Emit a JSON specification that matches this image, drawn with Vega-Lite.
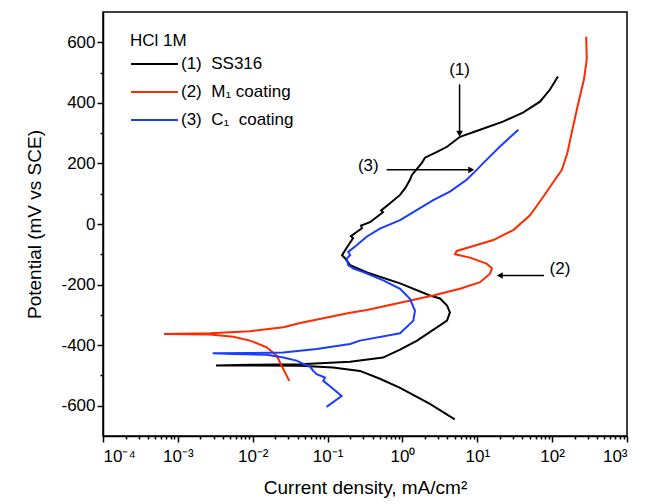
{
  "$schema": "https://vega.github.io/schema/vega-lite/v6.json",
  "width": 524,
  "height": 424,
  "autosize": {"type": "none"},
  "padding": {"left": 103, "top": 12, "right": 34, "bottom": 68},
  "background": "white",
  "config": {
    "font": "Liberation Sans",
    "view": {"stroke": "black", "strokeWidth": 1.5},
    "axis": {
      "grid": false,
      "domainColor": "black",
      "domainWidth": 1.5,
      "tickColor": "black",
      "tickWidth": 1.5,
      "labelColor": "black",
      "labelFont": "Liberation Sans",
      "labelFontSize": 17,
      "titleFont": "Liberation Sans",
      "titleFontSize": 19,
      "titleFontWeight": "normal",
      "titleColor": "black"
    }
  },
  "resolve": {"axis": {"x": "independent", "y": "independent"}},
  "datasets": {
    "curves": [
      {"s": "(1)  SS316", "i": 1, "x": 5.0, "y": -645},
      {"s": "(1)  SS316", "i": 2, "x": 2.33, "y": -594},
      {"s": "(1)  SS316", "i": 3, "x": 0.93, "y": -541},
      {"s": "(1)  SS316", "i": 4, "x": 0.5, "y": -511},
      {"s": "(1)  SS316", "i": 5, "x": 0.271, "y": -485},
      {"s": "(1)  SS316", "i": 6, "x": 0.118, "y": -474},
      {"s": "(1)  SS316", "i": 7, "x": 0.043, "y": -468},
      {"s": "(1)  SS316", "i": 8, "x": 0.0092, "y": -467},
      {"s": "(1)  SS316", "i": 9, "x": 0.00323, "y": -467},
      {"s": "(1)  SS316", "i": 10, "x": 0.0092, "y": -465},
      {"s": "(1)  SS316", "i": 11, "x": 0.043, "y": -463},
      {"s": "(1)  SS316", "i": 12, "x": 0.2, "y": -455},
      {"s": "(1)  SS316", "i": 13, "x": 0.55, "y": -441},
      {"s": "(1)  SS316", "i": 14, "x": 0.93, "y": -415},
      {"s": "(1)  SS316", "i": 15, "x": 1.57, "y": -385},
      {"s": "(1)  SS316", "i": 16, "x": 3.94, "y": -319},
      {"s": "(1)  SS316", "i": 17, "x": 4.31, "y": -292},
      {"s": "(1)  SS316", "i": 18, "x": 3.94, "y": -269},
      {"s": "(1)  SS316", "i": 19, "x": 3.18, "y": -246},
      {"s": "(1)  SS316", "i": 20, "x": 2.33, "y": -236},
      {"s": "(1)  SS316", "i": 21, "x": 0.93, "y": -196},
      {"s": "(1)  SS316", "i": 22, "x": 0.336, "y": -160},
      {"s": "(1)  SS316", "i": 23, "x": 0.2, "y": -136},
      {"s": "(1)  SS316", "i": 24, "x": 0.171, "y": -113},
      {"s": "(1)  SS316", "i": 25, "x": 0.156, "y": -103},
      {"s": "(1)  SS316", "i": 26, "x": 0.182, "y": -77},
      {"s": "(1)  SS316", "i": 27, "x": 0.219, "y": -47},
      {"s": "(1)  SS316", "i": 28, "x": 0.205, "y": -40},
      {"s": "(1)  SS316", "i": 29, "x": 0.288, "y": -14},
      {"s": "(1)  SS316", "i": 30, "x": 0.28, "y": -5},
      {"s": "(1)  SS316", "i": 31, "x": 0.369, "y": 6},
      {"s": "(1)  SS316", "i": 32, "x": 0.55, "y": 39},
      {"s": "(1)  SS316", "i": 33, "x": 0.52, "y": 45},
      {"s": "(1)  SS316", "i": 34, "x": 0.64, "y": 63},
      {"s": "(1)  SS316", "i": 35, "x": 0.93, "y": 96},
      {"s": "(1)  SS316", "i": 36, "x": 1.1, "y": 120},
      {"s": "(1)  SS316", "i": 37, "x": 1.26, "y": 146},
      {"s": "(1)  SS316", "i": 38, "x": 1.34, "y": 162},
      {"s": "(1)  SS316", "i": 39, "x": 1.82, "y": 202},
      {"s": "(1)  SS316", "i": 40, "x": 2.0, "y": 219},
      {"s": "(1)  SS316", "i": 41, "x": 2.9, "y": 238},
      {"s": "(1)  SS316", "i": 42, "x": 3.94, "y": 255},
      {"s": "(1)  SS316", "i": 43, "x": 5.87, "y": 288},
      {"s": "(1)  SS316", "i": 44, "x": 10.9, "y": 311},
      {"s": "(1)  SS316", "i": 45, "x": 22.0, "y": 338},
      {"s": "(1)  SS316", "i": 46, "x": 40.7, "y": 368},
      {"s": "(1)  SS316", "i": 47, "x": 68.8, "y": 404},
      {"s": "(1)  SS316", "i": 48, "x": 93.6, "y": 444},
      {"s": "(1)  SS316", "i": 49, "x": 119.7, "y": 487},
      {"s": "(2)  M₁ coating", "i": 1, "x": 0.0308, "y": -518},
      {"s": "(2)  M₁ coating", "i": 2, "x": 0.0256, "y": -479},
      {"s": "(2)  M₁ coating", "i": 3, "x": 0.0209, "y": -435},
      {"s": "(2)  M₁ coating", "i": 4, "x": 0.0154, "y": -407},
      {"s": "(2)  M₁ coating", "i": 5, "x": 0.0092, "y": -385},
      {"s": "(2)  M₁ coating", "i": 6, "x": 0.0055, "y": -372},
      {"s": "(2)  M₁ coating", "i": 7, "x": 0.00268, "y": -365},
      {"s": "(2)  M₁ coating", "i": 8, "x": 0.000653, "y": -363},
      {"s": "(2)  M₁ coating", "i": 9, "x": 0.00268, "y": -361},
      {"s": "(2)  M₁ coating", "i": 10, "x": 0.0092, "y": -354},
      {"s": "(2)  M₁ coating", "i": 11, "x": 0.0256, "y": -341},
      {"s": "(2)  M₁ coating", "i": 12, "x": 0.043, "y": -327},
      {"s": "(2)  M₁ coating", "i": 13, "x": 0.2, "y": -293},
      {"s": "(2)  M₁ coating", "i": 14, "x": 0.336, "y": -284},
      {"s": "(2)  M₁ coating", "i": 15, "x": 0.93, "y": -260},
      {"s": "(2)  M₁ coating", "i": 16, "x": 2.56, "y": -236},
      {"s": "(2)  M₁ coating", "i": 17, "x": 5.87, "y": -214},
      {"s": "(2)  M₁ coating", "i": 18, "x": 10.9, "y": -192},
      {"s": "(2)  M₁ coating", "i": 19, "x": 14.8, "y": -164},
      {"s": "(2)  M₁ coating", "i": 20, "x": 15.7, "y": -146},
      {"s": "(2)  M₁ coating", "i": 21, "x": 13.3, "y": -131},
      {"s": "(2)  M₁ coating", "i": 22, "x": 7.98, "y": -111},
      {"s": "(2)  M₁ coating", "i": 23, "x": 5.04, "y": -100},
      {"s": "(2)  M₁ coating", "i": 24, "x": 5.31, "y": -89},
      {"s": "(2)  M₁ coating", "i": 25, "x": 7.98, "y": -76},
      {"s": "(2)  M₁ coating", "i": 26, "x": 16.4, "y": -53},
      {"s": "(2)  M₁ coating", "i": 27, "x": 30.3, "y": -20},
      {"s": "(2)  M₁ coating", "i": 28, "x": 50.6, "y": 29},
      {"s": "(2)  M₁ coating", "i": 29, "x": 76.2, "y": 90},
      {"s": "(2)  M₁ coating", "i": 30, "x": 109, "y": 146},
      {"s": "(2)  M₁ coating", "i": 31, "x": 135, "y": 179},
      {"s": "(2)  M₁ coating", "i": 32, "x": 160, "y": 235},
      {"s": "(2)  M₁ coating", "i": 33, "x": 182, "y": 300},
      {"s": "(2)  M₁ coating", "i": 34, "x": 221, "y": 394},
      {"s": "(2)  M₁ coating", "i": 35, "x": 266, "y": 477},
      {"s": "(2)  M₁ coating", "i": 36, "x": 290, "y": 544},
      {"s": "(2)  M₁ coating", "i": 37, "x": 285, "y": 618},
      {"s": "(3)  C₁  coating", "i": 1, "x": 0.097, "y": -604},
      {"s": "(3)  C₁  coating", "i": 2, "x": 0.154, "y": -568},
      {"s": "(3)  C₁  coating", "i": 3, "x": 0.113, "y": -540},
      {"s": "(3)  C₁  coating", "i": 4, "x": 0.0877, "y": -518},
      {"s": "(3)  C₁  coating", "i": 5, "x": 0.0924, "y": -507},
      {"s": "(3)  C₁  coating", "i": 6, "x": 0.0714, "y": -496},
      {"s": "(3)  C₁  coating", "i": 7, "x": 0.0644, "y": -485},
      {"s": "(3)  C₁  coating", "i": 8, "x": 0.0582, "y": -471},
      {"s": "(3)  C₁  coating", "i": 9, "x": 0.0474, "y": -462},
      {"s": "(3)  C₁  coating", "i": 10, "x": 0.0386, "y": -451},
      {"s": "(3)  C₁  coating", "i": 11, "x": 0.0256, "y": -441},
      {"s": "(3)  C₁  coating", "i": 12, "x": 0.0154, "y": -432},
      {"s": "(3)  C₁  coating", "i": 13, "x": 0.0055, "y": -429},
      {"s": "(3)  C₁  coating", "i": 14, "x": 0.00292, "y": -427},
      {"s": "(3)  C₁  coating", "i": 15, "x": 0.0092, "y": -426},
      {"s": "(3)  C₁  coating", "i": 16, "x": 0.0256, "y": -424},
      {"s": "(3)  C₁  coating", "i": 17, "x": 0.0714, "y": -413},
      {"s": "(3)  C₁  coating", "i": 18, "x": 0.2, "y": -396},
      {"s": "(3)  C₁  coating", "i": 19, "x": 0.271, "y": -385},
      {"s": "(3)  C₁  coating", "i": 20, "x": 0.93, "y": -361},
      {"s": "(3)  C₁  coating", "i": 21, "x": 1.4, "y": -319},
      {"s": "(3)  C₁  coating", "i": 22, "x": 1.47, "y": -286},
      {"s": "(3)  C₁  coating", "i": 23, "x": 1.26, "y": -247},
      {"s": "(3)  C₁  coating", "i": 24, "x": 0.93, "y": -214},
      {"s": "(3)  C₁  coating", "i": 25, "x": 0.555, "y": -186},
      {"s": "(3)  C₁  coating", "i": 26, "x": 0.3, "y": -159},
      {"s": "(3)  C₁  coating", "i": 27, "x": 0.221, "y": -147},
      {"s": "(3)  C₁  coating", "i": 28, "x": 0.189, "y": -136},
      {"s": "(3)  C₁  coating", "i": 29, "x": 0.18, "y": -114},
      {"s": "(3)  C₁  coating", "i": 30, "x": 0.2, "y": -103},
      {"s": "(3)  C₁  coating", "i": 31, "x": 0.189, "y": -92},
      {"s": "(3)  C₁  coating", "i": 32, "x": 0.245, "y": -70},
      {"s": "(3)  C₁  coating", "i": 33, "x": 0.332, "y": -42},
      {"s": "(3)  C₁  coating", "i": 34, "x": 0.5, "y": -15},
      {"s": "(3)  C₁  coating", "i": 35, "x": 0.93, "y": 13},
      {"s": "(3)  C₁  coating", "i": 36, "x": 1.55, "y": 46},
      {"s": "(3)  C₁  coating", "i": 37, "x": 2.58, "y": 79},
      {"s": "(3)  C₁  coating", "i": 38, "x": 4.31, "y": 107},
      {"s": "(3)  C₁  coating", "i": 39, "x": 7.21, "y": 146},
      {"s": "(3)  C₁  coating", "i": 40, "x": 9.31, "y": 173},
      {"s": "(3)  C₁  coating", "i": 41, "x": 12.0, "y": 201},
      {"s": "(3)  C₁  coating", "i": 42, "x": 20.1, "y": 256},
      {"s": "(3)  C₁  coating", "i": 43, "x": 35.3, "y": 311}
    ],
    "arrows": [
      {"x": 5.8, "y": 461, "x2": 5.8, "y2": 300},
      {"x": 0.616, "y": 179, "x2": 8.3, "y2": 179},
      {"x": 77.8, "y": -170, "x2": 20.0, "y2": -170}
    ],
    "heads": [
      {"x": 5.8, "y": 298, "shape": "triangle-down"},
      {"x": 8.3, "y": 179, "shape": "triangle-right"},
      {"x": 20.0, "y": -170, "shape": "triangle-left"}
    ],
    "labels": [
      {"x": 5.8, "y": 510, "t": "(1)"},
      {"x": 0.35, "y": 190, "t": "(3)"},
      {"x": 127, "y": -150, "t": "(2)"}
    ]
  },
  "layer": [
    {
      "data": {"name": "curves"},
      "mark": {"type": "line", "strokeWidth": 2, "clip": true},
      "encoding": {
        "x": {
          "field": "x", "type": "quantitative",
          "scale": {"type": "log", "domain": [0.0001, 1000], "nice": false},
          "axis": {
            "orient": "bottom",
            "title": "Current density, mA/cm²",
            "values": [0.0001, 0.001, 0.01, 0.1, 1, 10, 100, 1000],
            "tickSize": 6,
            "labelPadding": 6,
            "titlePadding": 14,
            "labelExpr": "'10' + (datum.value < 1 ? '⁻' : '') + ['⁰','¹','²','³','⁴'][abs(round(log(datum.value)/LN10))]"
          }
        },
        "y": {
          "field": "y", "type": "quantitative",
          "scale": {"domain": [-700, 700], "nice": false},
          "axis": {
            "orient": "left",
            "title": "Potential (mV vs SCE)",
            "values": [-600, -400, -200, 0, 200, 400, 600],
            "tickSize": 6,
            "labelPadding": 2,
            "titlePadding": 16,
            "labelExpr": "datum.value + ''"
          }
        },
        "color": {
          "field": "s", "type": "nominal",
          "scale": {"domain": ["(1)  SS316", "(2)  M₁ coating", "(3)  C₁  coating"], "range": ["#000000", "#ff2a00", "#1a3cff"]},
          "legend": {
            "orient": "none",
            "legendX": 27,
            "legendY": 21,
            "title": "HCl 1M",
            "titleFontSize": 17,
            "titleFontWeight": "normal",
            "titleColor": "black",
            "titlePadding": 4,
            "labelFontSize": 17,
            "labelColor": "black",
            "labelOffset": 2,
            "symbolType": "stroke",
            "symbolSize": 2200,
            "symbolStrokeWidth": 2,
            "clipHeight": 20,
            "rowPadding": 8,
            "padding": 0,
            "labelExpr": "replace(datum.label, / {2}/g, '\u00a0\u00a0')"
          }
        },
        "order": {"field": "i", "type": "quantitative"}
      }
    },
    {
      "data": {"name": "arrows"},
      "mark": {"type": "rule", "color": "black", "strokeWidth": 1.5},
      "encoding": {
        "x": {"field": "x", "type": "quantitative", "axis": {"orient": "bottom", "title": null, "labels": false, "domain": false, "tickSize": 3,
          "values": [0.0002,0.0003,0.0004,0.0005,0.0006,0.0007,0.0008,0.0009,0.002,0.003,0.004,0.005,0.006,0.007,0.008,0.009,0.02,0.03,0.04,0.05,0.06,0.07,0.08,0.09,0.2,0.3,0.4,0.5,0.6,0.7,0.8,0.9,2,3,4,5,6,7,8,9,20,30,40,50,60,70,80,90,200,300,400,500,600,700,800,900]}},
        "y": {"field": "y", "type": "quantitative", "axis": {"orient": "left", "title": null, "labels": false, "domain": false, "tickSize": 3, "values": [-500, -300, -100, 100, 300, 500]}},
        "x2": {"field": "x2"},
        "y2": {"field": "y2"}
      }
    },
    {
      "data": {"name": "heads"},
      "mark": {"type": "point", "filled": true, "color": "black", "size": 45, "opacity": 1},
      "encoding": {
        "x": {"field": "x", "type": "quantitative", "axis": null},
        "y": {"field": "y", "type": "quantitative", "axis": null},
        "shape": {"field": "shape", "type": "nominal", "scale": null, "legend": null}
      }
    },
    {
      "data": {"name": "labels"},
      "mark": {"type": "text", "fontSize": 17, "color": "black", "align": "center", "baseline": "middle"},
      "encoding": {
        "x": {"field": "x", "type": "quantitative", "axis": null},
        "y": {"field": "y", "type": "quantitative", "axis": null},
        "text": {"field": "t"}
      }
    }
  ]
}
